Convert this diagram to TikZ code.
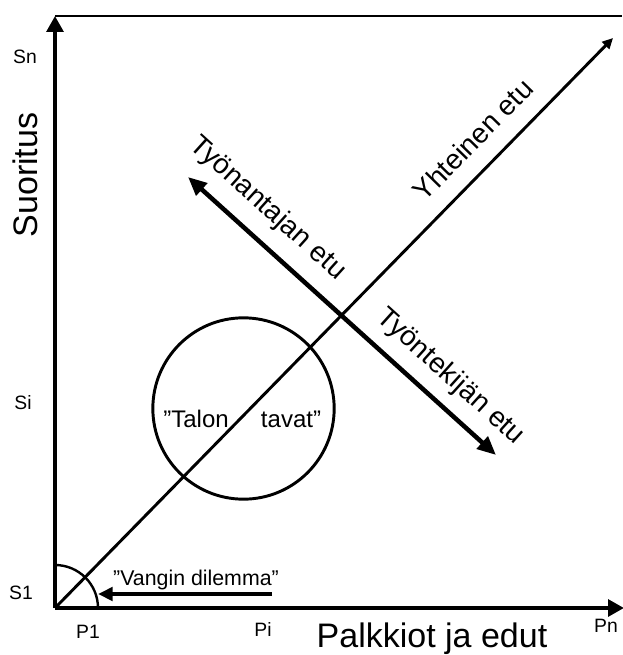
\documentclass[tikz,border=0pt]{standalone}
\usepackage{fontspec}
\setmainfont{Liberation Sans}
\usepackage{tikz}
\usetikzlibrary{arrows.meta, positioning}
\tikzset{
  axis/.style  ={line width=3.4pt, -{Triangle[length=12pt, width=12.5pt]}},
  frame/.style ={line width=1.6pt},
  common/.style={line width=2.2pt, -{Triangle[length=8pt, width=7.5pt]}},
  gain/.style  ={line width=3.4pt, {Triangle[length=14pt, width=12pt]}-{Triangle[length=14pt, width=12pt]}},
  dilemma/.style={line width=3pt, -{Triangle[length=11pt, width=10pt]}},
  ring/.style  ={circle, draw, line width=2.2pt, minimum size=136pt, inner sep=0pt},
  tick/.style  ={font=\fontsize{14.5}{17}\selectfont, inner sep=0pt, anchor=base},
  big/.style   ={font=\fontsize{25.5}{28}\selectfont, inner sep=0pt, anchor=base},
  diag/.style  ={font=\fontsize{21}{24}\selectfont, inner sep=0pt, sloped},
  note/.style  ={font=\fontsize{18}{21}\selectfont, inner sep=0pt, anchor=base},
}

\begin{document}
\begin{tikzpicture}[x=0.75pt, y=-0.75pt]
  \useasboundingbox (0,0) rectangle (622,655);

  % axes and frame
  \coordinate (O)    at (55,608);
  \coordinate (ytop) at (55,16);
  \coordinate (xend) at (624,608);
  \coordinate (tr)   at (622,16);
  \draw[frame] (ytop) -- (tr);
  \draw[axis]  (O) -- (ytop);
  \draw[axis]  (O) -- (xend);

  % tick labels
  \node[tick] (sn) at (25,64)   {Sn};
  \node[tick] (si) at (23,409)  {Si};
  \node[tick] (s1) at (21,599)  {S1};
  \node[tick] (p1) at (88,638)  {P1};
  \node[tick] (pi) at (263,636) {Pi};
  \node[tick] (pn) at (606,632) {Pn};

  \node[big, rotate=90] (suor) at (37,175)  {Suoritus};
  \node[big]            (palk) at (432,647) {Palkkiot ja edut};

  % talon tavat
  \node[ring] (talon) at (243.5,408.5) {};
  \node[note] (talonl) at (196,427) {”Talon};
  \node[note] (talonr) at (291,427) {tavat”};

  % common interest
  \coordinate (yh) at (613,38);
  \draw[common] (O) -- node[diag, pos=0.786, above=13pt] (yhl) {Yhteinen etu} (yh);

  % employer / employee
  \coordinate (ta) at (188,177);
  \coordinate (tk) at (496,455);
  \draw[gain] (ta) -- node[diag, pos=0.193, above=11pt] (tal) {Työnantajan etu}
                      node[diag, pos=0.792, above=9pt] (tkl) {Työntekijän etu} (tk);

  % prisoner's dilemma
  \draw[line width=1.8pt] (98,608) arc[start angle=0, end angle=-90, radius=43];
  \coordinate (vd)  at (272,594);
  \coordinate (vdt) at (98,594);
  \draw[dilemma] (vd) -- (vdt);
  \node[font=\fontsize{16}{19}\selectfont, inner sep=0pt, anchor=base] (vdl) at (196,585) {”Vangin dilemma”};

\end{tikzpicture}
\end{document}
